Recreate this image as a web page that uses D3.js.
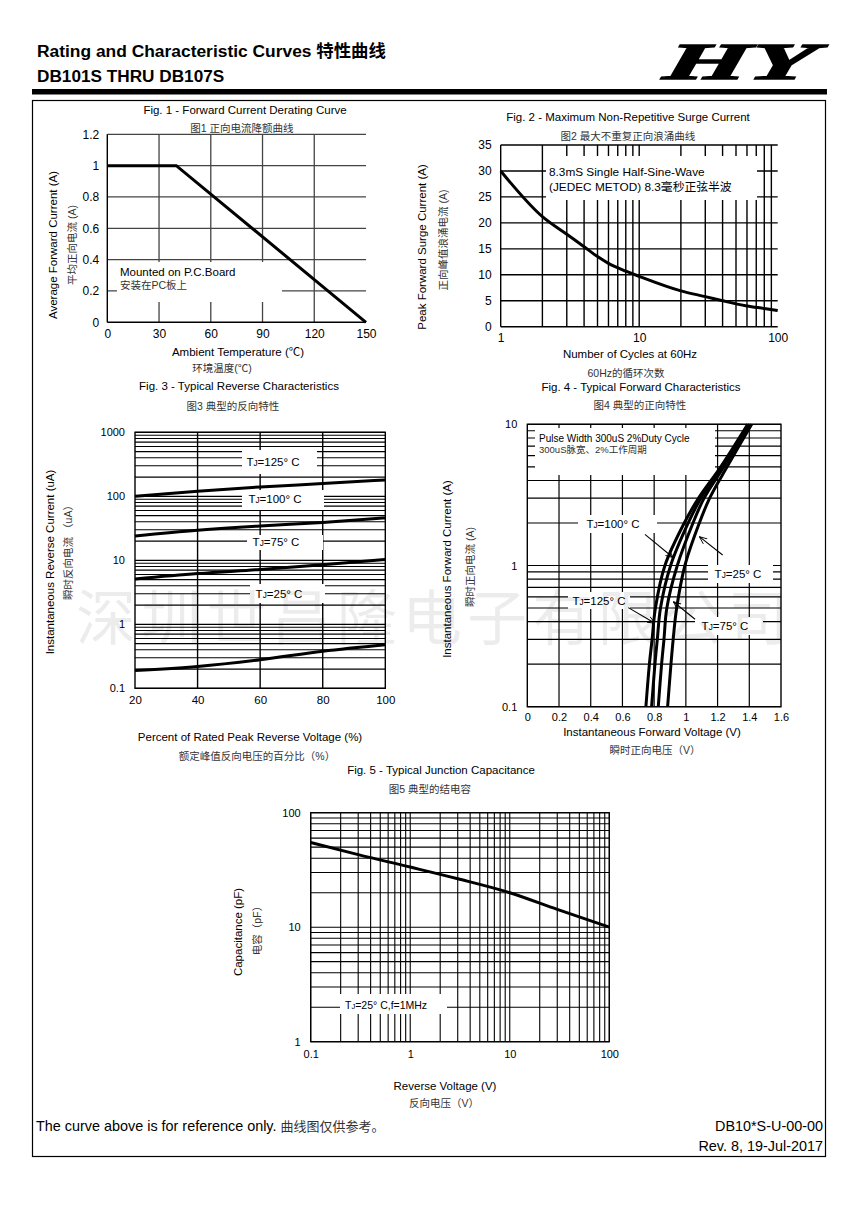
<!DOCTYPE html>
<html><head><meta charset="utf-8">
<script src="https://cdn.jsdelivr.net/npm/d3@7"></script>
<style>body{margin:0;background:#fff}svg{display:block}</style>
</head><body>
<script>
// ---------------- data ----------------
const fig1Temp = [0, 40, 150];
const fig1Current = [1, 1, 0];
const fig1XTicks = [0, 30, 60, 90, 120, 150];
const fig1YTicks = [0, 0.2, 0.4, 0.6, 0.8, 1, 1.2];

const fig2Cycles = [1, 2, 3, 4, 5, 6, 8, 10, 20, 30, 40, 50, 60, 80, 100];
const fig2Current = [30, 21.2, 17.8, 15.4, 13.5, 12.2, 10.7, 9.7, 6.9, 5.8, 5.0, 4.4, 4.0, 3.5, 3.1];
const fig2XTicks = [1, 10, 100];
const fig2YTicks = [0, 5, 10, 15, 20, 25, 30, 35];

const fig3Percent = [20, 40, 60, 80, 100];
const fig3Tj125 = [100, 120, 140, 158, 180];
const fig3Tj100 = [24, 29.5, 34.5, 39, 46];
const fig3Tj75 = [5.1, 6.2, 7.2, 8.5, 10.3];
const fig3Tj25 = [0.19, 0.22, 0.28, 0.38, 0.48];
const fig3XTicks = [20, 40, 60, 80, 100];
const fig3YTicks = [0.1, 1, 10, 100, 1000];

const fig4Current = [0.1, 0.2, 0.3, 0.5, 1, 2, 3, 5, 10];
const fig4Tj125 = [0.748, 0.77, 0.787, 0.808, 0.868, 0.99, 1.08, 1.22, 1.39];
const fig4Tj100 = [0.784, 0.805, 0.82, 0.84, 0.904, 1.015, 1.095, 1.23, 1.40];
const fig4Tj75 = [0.826, 0.847, 0.862, 0.88, 0.946, 1.045, 1.115, 1.24, 1.405];
const fig4Tj25 = [0.885, 0.906, 0.92, 0.942, 0.994, 1.085, 1.15, 1.26, 1.415];
const fig4XTicks = [0, 0.2, 0.4, 0.6, 0.8, 1, 1.2, 1.4, 1.6];
const fig4YTicks = [0.1, 1, 10];

const fig5Voltage = [0.1, 0.3, 1, 3, 10, 30, 100];
const fig5Cap = [55, 43, 33.5, 26.5, 20, 14.3, 10];
const fig5XTicks = [0.1, 1, 10, 100];
const fig5YTicks = [1, 10, 100];

// ---------------- helpers ----------------
const LAT = "'Liberation Sans', Arial, 'Noto Sans CJK SC', sans-serif";
const CJK = "'Liberation Sans', 'Noto Sans CJK SC', sans-serif";
const svg = d3.select("body").append("svg").attr("width", 859).attr("height", 1214)
  .attr("font-family", LAT);
svg.append("rect").attr("width", 859).attr("height", 1214).attr("fill", "#fff");
const defs = svg.append("defs");
defs.append("marker").attr("id", "ah").attr("viewBox", "0 0 10 10")
  .attr("refX", 9.5).attr("refY", 5).attr("markerWidth", 8).attr("markerHeight", 8)
  .attr("markerUnits", "userSpaceOnUse").attr("orient", "auto")
  .append("path").attr("d", "M0,1 L9.5,5 L0,9").attr("fill", "none")
  .attr("stroke", "#000").attr("stroke-width", 1.1);

// watermark (behind, very light)
const wm = svg.append("g");

function T(g, x, y, s, o = {}) {
  return g.append("text").attr("x", x).attr("y", y).attr("dy", "0.35em")
    .attr("text-anchor", o.anchor || "middle").attr("font-size", o.size || 11.5)
    .attr("font-family", o.cjk ? CJK : LAT)
    .attr("fill", o.fill || (o.cjk ? "#333" : "#000"))
    .attr("font-weight", o.weight || null).text(s);
}
function TR(g, x, y, s, o = {}) {
  return g.append("text").attr("transform", `translate(${x},${y}) rotate(-90)`)
    .attr("dy", "0.35em").attr("text-anchor", "middle")
    .attr("font-size", o.size || 11.5).attr("font-family", o.cjk ? CJK : LAT)
    .attr("fill", o.fill || (o.cjk ? "#333" : "#000")).text(s);
}
function TJ(g, x, y, rest, o = {}) {
  const t = g.append("text").attr("x", x).attr("y", y).attr("dy", "0.35em")
    .attr("text-anchor", o.anchor || "middle").attr("font-size", o.size || 11.5).attr("fill", "#000");
  t.append("tspan").text("T");
  t.append("tspan").attr("font-size", (o.size || 11.5) * 0.72).text("J");
  t.append("tspan").text(rest);
  return t;
}
function mask(g, x0, y0, x1, y1) {
  g.append("rect").attr("x", x0).attr("y", y0).attr("width", x1 - x0).attr("height", y1 - y0).attr("fill", "#fff");
}
function hgrid(g, x, y, vals, st) {
  g.selectAll(null).data(vals).join("line")
    .attr("x1", x.range()[0]).attr("x2", x.range()[1])
    .attr("y1", d => y(d)).attr("y2", d => y(d))
    .attr("stroke", st.c).attr("stroke-width", st.w);
}
function vgrid(g, x, y, vals, st) {
  g.selectAll(null).data(vals).join("line")
    .attr("y1", y.range()[0]).attr("y2", y.range()[1])
    .attr("x1", d => x(d)).attr("x2", d => x(d))
    .attr("stroke", st.c).attr("stroke-width", st.w);
}
function leftAxis(g, y, ticks, x0, pad, size, fmt) {
  g.append("g").attr("transform", `translate(${x0},0)`)
    .call(d3.axisLeft(y).tickValues(ticks).tickSize(0).tickPadding(pad).tickFormat(fmt))
    .call(a => { a.select(".domain").remove(); a.attr("font-size", size).attr("font-family", LAT); a.selectAll("text").attr("fill", "#000"); });
}
function bottomAxis(g, x, ticks, y0, pad, size, fmt) {
  g.append("g").attr("transform", `translate(0,${y0})`)
    .call(d3.axisBottom(x).tickValues(ticks).tickSize(0).tickPadding(pad).tickFormat(fmt))
    .call(a => { a.select(".domain").remove(); a.attr("font-size", size).attr("font-family", LAT); a.selectAll("text").attr("fill", "#000"); });
}
const numFmt = d => String(+d.toFixed(2));

// ---------------- header ----------------
T(svg, 37, 51, "Rating and Characteristic Curves 特性曲线", { anchor: "start", size: 17.4, weight: "bold" });
T(svg, 37, 76, "DB101S THRU DB107S", { anchor: "start", size: 17.2, weight: "bold" });
svg.append("text").attr("transform", "translate(662,79) skewX(-12)").attr("font-family", "'Liberation Serif', serif")
  .attr("font-weight", "bold").attr("font-style", "italic").attr("font-size", 52)
  .attr("textLength", 150).attr("lengthAdjust", "spacingAndGlyphs").attr("stroke", "#000").attr("stroke-width", 1.5)
  .text("HY");
svg.append("rect").attr("x", 32).attr("y", 89).attr("width", 795).attr("height", 5.5).attr("fill", "#000");
svg.append("rect").attr("x", 32.5).attr("y", 100.5).attr("width", 793).attr("height", 1056)
  .attr("fill", "none").attr("stroke", "#000").attr("stroke-width", 1.2);

// ---------------- Fig 1 ----------------
{
  const g = svg.append("g");
  const x = d3.scaleLinear([0, 150], [107.3, 366]);
  const y = d3.scaleLinear([0, 1.2], [322.3, 134.3]);
  hgrid(g, x, y, fig1YTicks.slice(1), { c: "#444", w: 1.3 });
  vgrid(g, x, y, fig1XTicks.slice(1, -1), { c: "#444", w: 1.3 });
  g.append("line").attr("x1", x(0)).attr("x2", x(0)).attr("y1", y(0)).attr("y2", y(1.2)).attr("stroke", "#000").attr("stroke-width", 1.4);
  g.append("line").attr("x1", x(0)).attr("x2", x(150)).attr("y1", y(0)).attr("y2", y(0)).attr("stroke", "#000").attr("stroke-width", 1.4);
  mask(g, 117, 262, 282, 302);
  g.append("path").datum(fig1Temp.map((t, i) => [t, fig1Current[i]]))
    .attr("d", d3.line().x(d => x(d[0])).y(d => y(d[1])))
    .attr("fill", "none").attr("stroke", "#000").attr("stroke-width", 3);
  T(g, 120, 271.5, "Mounted on P.C.Board", { anchor: "start", size: 11.5 });
  T(g, 120, 285, "安装在PC板上", { anchor: "start", size: 10.5, cjk: true });
  leftAxis(g, y, fig1YTicks, x(0), 8, 12, numFmt);
  bottomAxis(g, x, fig1XTicks, y(0), 7, 12, numFmt);
  T(g, 245, 110, "Fig. 1 - Forward Current Derating Curve");
  T(g, 242, 128, "图1 正向电流降额曲线", { size: 10.5, cjk: true });
  T(g, 238, 352, "Ambient Temperature (℃)");
  T(g, 222, 368, "环境温度(℃)", { size: 10.5, cjk: true });
  TR(g, 53, 245, "Average Forward Current (A)");
  TR(g, 72, 245, "平均正向电流 (A)", { size: 10.5, cjk: true });
}

// ---------------- Fig 2 ----------------
{
  const g = svg.append("g");
  const x = d3.scaleLog([1, 100], [500.7, 777.7]);
  const y = d3.scaleLinear([0, 35], [326.7, 145]);
  hgrid(g, x, y, fig2YTicks.slice(1), { c: "#000", w: 1.4 });
  vgrid(g, x, y, x.ticks().filter(d => d > 1 && d < 100), { c: "#000", w: 1.4 });
  g.append("line").attr("x1", x(1)).attr("x2", x(1)).attr("y1", y(0)).attr("y2", y(35)).attr("stroke", "#000").attr("stroke-width", 1.4);
  g.append("line").attr("x1", x(1)).attr("x2", x(100)).attr("y1", y(0)).attr("y2", y(0)).attr("stroke", "#000").attr("stroke-width", 1.4);
  mask(g, 546, 156, 757, 200);
  g.append("path").datum(fig2Cycles.map((c, i) => [c, fig2Current[i]]))
    .attr("d", d3.line().x(d => x(d[0])).y(d => y(d[1])).curve(d3.curveMonotoneX))
    .attr("fill", "none").attr("stroke", "#000").attr("stroke-width", 3);
  T(g, 549, 172, "8.3mS Single Half-Sine-Wave", { anchor: "start", size: 11.8 });
  T(g, 549, 187, "(JEDEC METOD) 8.3毫秒正弦半波", { anchor: "start", size: 11.8 });
  leftAxis(g, y, fig2YTicks, x(1), 9, 12, numFmt);
  bottomAxis(g, x, fig2XTicks, y(0), 7, 12, numFmt);
  T(g, 628, 117, "Fig. 2 - Maximum Non-Repetitive Surge Current");
  T(g, 628, 136.5, "图2 最大不重复正向浪涌曲线", { size: 10.5, cjk: true });
  T(g, 630, 354, "Number of Cycles at 60Hz");
  T(g, 626, 373, "60Hz的循环次数", { size: 10.5, cjk: true });
  TR(g, 422, 247, "Peak Forward Surge Current (A)");
  TR(g, 443, 240, "正向峰值浪涌电流 (A)", { size: 10.5, cjk: true });
}

// ---------------- Fig 3 ----------------
{
  const g = svg.append("g");
  const x = d3.scaleLinear([20, 100], [135, 385.3]);
  const y = d3.scaleLog([0.1, 1000], [688.3, 432.3]);
  hgrid(g, x, y, y.ticks(), { c: "#000", w: 1.2 });
  vgrid(g, x, y, fig3XTicks.slice(1, -1), { c: "#000", w: 1.4 });
  g.append("rect").attr("x", x(20)).attr("y", y(1000)).attr("width", x(100) - x(20)).attr("height", y(0.1) - y(1000))
    .attr("fill", "none").attr("stroke", "#000").attr("stroke-width", 1.4);
  mask(g, 242, 450, 317, 474);
  mask(g, 242, 490, 324, 510);
  mask(g, 247, 535, 323, 550);
  mask(g, 250, 584, 325, 603);
  const ln = d3.line().x(d => x(d[0])).y(d => y(d[1])).curve(d3.curveMonotoneX);
  [fig3Tj125, fig3Tj100, fig3Tj75, fig3Tj25].forEach(s => {
    g.append("path").datum(fig3Percent.map((p, i) => [p, s[i]])).attr("d", ln)
      .attr("fill", "none").attr("stroke", "#000").attr("stroke-width", 3);
  });
  TJ(g, 273, 462, "=125° C");
  TJ(g, 275, 499, "=100° C");
  TJ(g, 276, 541.7, "=75° C");
  TJ(g, 279, 594, "=25° C");
  leftAxis(g, y, fig3YTicks, x(20), 10, 11, numFmt);
  bottomAxis(g, x, fig3XTicks, y(0.1), 8, 11.5, numFmt);
  T(g, 239, 386, "Fig. 3 - Typical Reverse Characteristics");
  T(g, 233, 406, "图3 典型的反向特性", { size: 10.5, cjk: true });
  T(g, 250, 737, "Percent of Rated Peak Reverse Voltage (%)");
  T(g, 257, 756, "额定峰值反向电压的百分比（%）", { size: 10.5, cjk: true });
  TR(g, 50, 562, "Instantaneous Reverse Current (uA)");
  TR(g, 68, 550, "瞬时反向电流 （uA）", { size: 10.5, cjk: true });
}

// ---------------- Fig 4 ----------------
{
  const g = svg.append("g");
  const x = d3.scaleLinear([0, 1.6], [527.3, 781]);
  const y = d3.scaleLog([0.1, 10], [706.7, 424.3]);
  hgrid(g, x, y, y.ticks(), { c: "#000", w: 1.2 });
  vgrid(g, x, y, fig4XTicks.slice(1, -1), { c: "#000", w: 1.2 });
  g.append("rect").attr("x", x(0)).attr("y", y(10)).attr("width", x(1.6) - x(0)).attr("height", y(0.1) - y(10))
    .attr("fill", "none").attr("stroke", "#000").attr("stroke-width", 1.4);
  mask(g, 535, 428, 715, 475);
  mask(g, 578, 515, 657, 533);
  mask(g, 708, 565, 773, 583);
  mask(g, 568, 592, 630, 609);
  mask(g, 695, 617, 763, 635);
  const ln = d3.line().x(d => x(d[0])).y(d => y(d[1])).curve(d3.curveCatmullRom.alpha(0.5));
  [fig4Tj125, fig4Tj100, fig4Tj75, fig4Tj25].forEach(s => {
    g.append("path").datum(fig4Current.map((c, i) => [s[i], c])).attr("d", ln)
      .attr("fill", "none").attr("stroke", "#000").attr("stroke-width", 3);
  });
  T(g, 539, 438, "Pulse Width 300uS 2%Duty Cycle", { anchor: "start", size: 10 });
  T(g, 539, 450, "300uS脉宽、2%工作周期", { anchor: "start", size: 9.5, cjk: true });
  TJ(g, 613, 524, "=100° C");
  TJ(g, 738, 574, "=25° C");
  TJ(g, 599, 601, "=125° C");
  TJ(g, 725, 626, "=75° C");
  const arrows = [
    [[0.742, 1.66], [0.921, 1.135]],
    [[1.232, 1.187], [1.085, 1.6]],
    [[0.637, 0.503], [0.805, 0.39]],
    [[1.058, 0.416], [0.921, 0.554]]
  ];
  arrows.forEach(a => {
    g.append("line").attr("x1", x(a[0][0])).attr("y1", y(a[0][1])).attr("x2", x(a[1][0])).attr("y2", y(a[1][1]))
      .attr("stroke", "#000").attr("stroke-width", 1.1).attr("marker-end", "url(#ah)");
  });
  leftAxis(g, y, fig4YTicks, x(0), 10, 11, numFmt);
  bottomAxis(g, x, fig4XTicks, y(0.1), 7, 11, numFmt);
  T(g, 641, 386.7, "Fig. 4 - Typical Forward Characteristics");
  T(g, 640, 405.7, "图4 典型的正向特性", { size: 10.5, cjk: true });
  T(g, 652, 732, "Instantaneous Forward Voltage (V)");
  T(g, 655, 750, "瞬时正向电压（V）", { size: 10.5, cjk: true });
  TR(g, 447, 569, "Instantaneous Forward Current (A)");
  TR(g, 470, 567, "瞬时正向电流 (A)", { size: 10.5, cjk: true });
}

// ---------------- Fig 5 ----------------
{
  const g = svg.append("g");
  const x = d3.scaleLog([0.1, 100], [310.7, 609.3]);
  const y = d3.scaleLog([1, 100], [1041.7, 812.7]);
  hgrid(g, x, y, y.ticks(), { c: "#000", w: 1.1 });
  vgrid(g, x, y, x.ticks(), { c: "#000", w: 1.1 });
  g.append("rect").attr("x", x(0.1)).attr("y", y(100)).attr("width", x(100) - x(0.1)).attr("height", y(1) - y(100))
    .attr("fill", "none").attr("stroke", "#000").attr("stroke-width", 1.3);
  mask(g, 340, 994, 447, 1014);
  g.append("path").datum(fig5Voltage.map((v, i) => [v, fig5Cap[i]]))
    .attr("d", d3.line().x(d => x(d[0])).y(d => y(d[1])).curve(d3.curveMonotoneX))
    .attr("fill", "none").attr("stroke", "#000").attr("stroke-width", 3);
  TJ(g, 345, 1005, "=25° C,f=1MHz", { anchor: "start", size: 10.5 });
  leftAxis(g, y, fig5YTicks, x(0.1), 10, 11, numFmt);
  bottomAxis(g, x, fig5XTicks, y(1), 9, 11, numFmt);
  T(g, 441, 770, "Fig. 5 - Typical Junction Capacitance");
  T(g, 430, 789, "图5 典型的结电容", { size: 10.5, cjk: true });
  T(g, 445, 1086, "Reverse Voltage (V)");
  T(g, 444, 1103, "反向电压（V）", { size: 10.5, cjk: true });
  TR(g, 238, 932, "Capacitance (pF)");
  TR(g, 257, 928, "电容（pF）", { size: 10.5, cjk: true });
}

// ---------------- footer ----------------
{
  const t = svg.append("text").attr("x", 36).attr("y", 1126).attr("dy", "0.35em").attr("font-size", 14.4).attr("fill", "#000");
  t.append("tspan").text("The curve above is for reference only.  ");
  t.append("tspan").attr("font-family", CJK).attr("fill", "#333").attr("font-size", 13).text("曲线图仅供参考。");
  T(svg, 823, 1126, "DB10*S-U-00-00", { anchor: "end", size: 14.4 });
  T(svg, 823, 1146, "Rev. 8, 19-Jul-2017", { anchor: "end", size: 14.4 });
}

// ---------------- watermark (light overlay) ----------------
svg.append("text").attr("x", 76).attr("y", 617).attr("dy", "0.38em")
  .attr("font-family", "'Noto Sans CJK SC', sans-serif").attr("font-weight", 400)
  .attr("font-size", 60).attr("letter-spacing", 5.2).attr("fill", "#000").attr("fill-opacity", 0.075)
  .text("深圳世昌隆电子有限公司");
</script>
</body></html>
